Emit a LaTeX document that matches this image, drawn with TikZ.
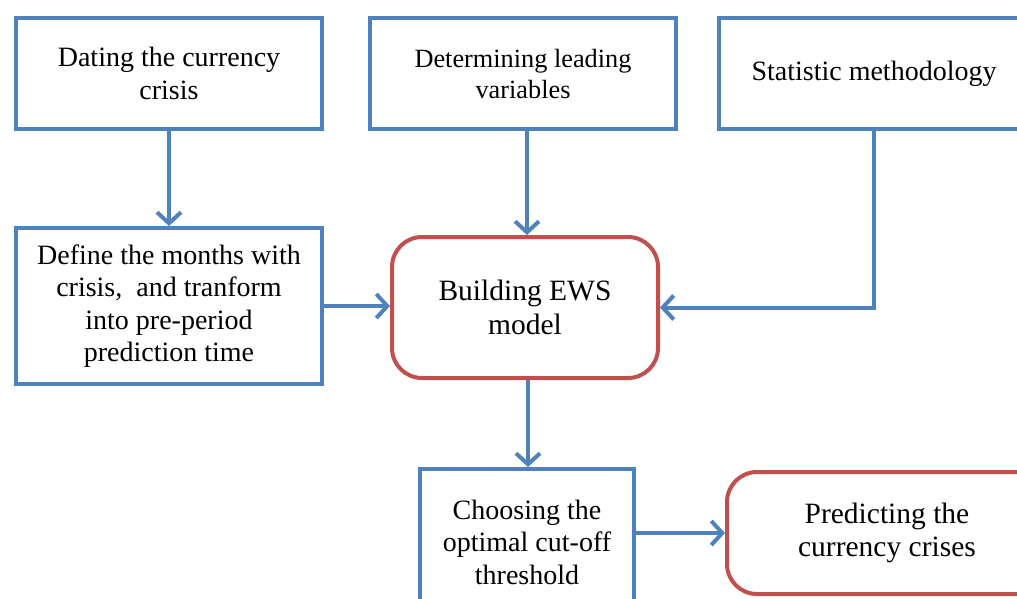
\documentclass[tikz,border=0pt]{standalone}
\usepackage{fontspec}
\setmainfont{Liberation Serif}
\newfontfamily\diagfont{Liberation Serif}
\usetikzlibrary{arrows.meta,calc}
\definecolor{boxblue}{HTML}{4F81BD}
\definecolor{boxred}{HTML}{C0504D}
\begin{document}
\begin{tikzpicture}[x=1pt,y=-1pt,
  bluebox/.style={draw=boxblue,line width=4pt,rectangle,align=center,inner sep=0pt,fill=white,font=\diagfont\fontsize{28}{32.5}\selectfont},
  redbox/.style={draw=boxred,line width=4pt,rectangle,rounded corners=30pt,align=center,inner sep=0pt,fill=white,font=\diagfont\fontsize{29.5}{33.5}\selectfont},
  flow/.style={draw=boxblue,line width=4pt,-{Straight Barb[length=11pt,width=24pt]}}]
\useasboundingbox (0,0) rectangle (1017,598);
\clip (0,0) rectangle (1017,598);
\fill[white] (0,0) rectangle (1017,598);

\node[bluebox,minimum width=306pt,minimum height=111pt] (A) at (169,73.5) {Dating the currency\\crisis};
\node[bluebox,minimum width=306pt,minimum height=111pt,font=\diagfont\fontsize{26.3}{31}\selectfont] (B) at (523,73.5) {Determining leading\\variables};
\node[bluebox,minimum width=310pt,minimum height=111pt] (C) at (874,73.5) {Statistic methodology};
\node[bluebox,minimum width=306pt,minimum height=156pt] (D) at (169,306) {Define the months with\\crisis,~ and tranform\\into pre-period\\prediction time};
\node[redbox,minimum width=266pt,minimum height=141pt] (E) at (525,307.5) {Building EWS\\model};
\node[bluebox,minimum width=214pt,minimum height=146pt] (F) at (527,542) {Choosing the\\optimal cut-off\\threshold};
\node[redbox,minimum width=320pt,minimum height=122pt] (G) at (887,533) {Predicting the\\currency crises};

\draw[flow] (A.south) -- (D.north);
\draw[flow] ([xshift=4pt]B.south) -- ([xshift=4pt]B.south |- E.north);
\draw[flow] (C.south) |- (E.east);
\draw[flow] (D.east) -- (D.east -| E.west);
\draw[flow] ([xshift=3pt]E.south) -- ([xshift=3pt]E.south |- F.north);
\draw[flow] (F.east |- G.west) -- (G.west);
\end{tikzpicture}
\end{document}
